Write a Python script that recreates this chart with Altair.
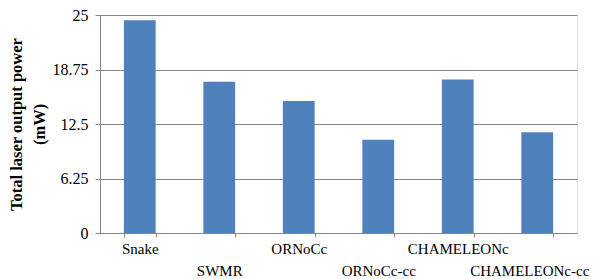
import altair as alt
import pandas as pd

categories = ["Snake", "SWMR", "ORNoCc", "ORNoCc-cc", "CHAMELEONc", "CHAMELEONc-cc"]
values = [24.4, 17.35, 15.15, 10.7, 17.6, 11.55]
y_ticks = [0, 6.25, 12.5, 18.75, 25]
lower_row = ["SWMR", "ORNoCc-cc", "CHAMELEONc-cc"]

df = pd.DataFrame({"cat": categories, "val": values})

font = "Liberation Serif"
grey = "#868686"

lower_js = "[" + ",".join("'%s'" % c for c in lower_row) + "]"

chart = alt.Chart(df).mark_bar(color="#4f81bd").encode(
    x=alt.X(
        "cat:N",
        sort=categories,
        scale=alt.Scale(paddingInner=0.6, paddingOuter=0.3),
        axis=alt.Axis(
            title=None,
            labelAngle=0,
            labelFont=font,
            labelFontSize=15,
            labelColor="#000000",
            labelPadding=4,
            labelLineHeight=22,
            labelExpr="indexof(" + lower_js + ", datum.value) >= 0 ? ['', datum.value] : datum.value",
            labelOffset={"condition": {"test": "datum.value == 'CHAMELEONc-cc'", "value": -8}, "value": 0},
            tickBand="extent",
            tickSize=4,
            tickColor=grey,
            domainColor=grey,
            labelOverlap=False,
            labelBound=False,
        ),
    ),
    y=alt.Y(
        "val:Q",
        scale=alt.Scale(domain=[0, 25], nice=False),
        axis=alt.Axis(
            values=y_ticks,
            labelExpr="'' + datum.value",
            title=["Total laser output  power", "(mW)"],
            titleFont=font,
            titleFontSize=16.5,
            titleFontWeight="bold",
            titleColor="#000000",
            titleLineHeight=23,
            titleAngle=-90,
            titleX=-84,
            titleY=109,
            titleAlign="center",
            titleBaseline="middle",
            labelFont=font,
            labelFontSize=16,
            labelColor="#000000",
            labelPadding=7,
            tickSize=5,
            tickColor=grey,
            domainColor=grey,
            gridColor=grey,
            gridWidth=1,
        ),
    ),
).properties(
    width=477,
    height=218,
    autosize=alt.AutoSizeParams(type="none"),
    padding={"left": 92, "top": 7, "right": 18, "bottom": 46},
).configure_view(stroke=None).configure(background="white")

chart.save("out.html", embed_options={"renderer": "svg", "actions": False})
